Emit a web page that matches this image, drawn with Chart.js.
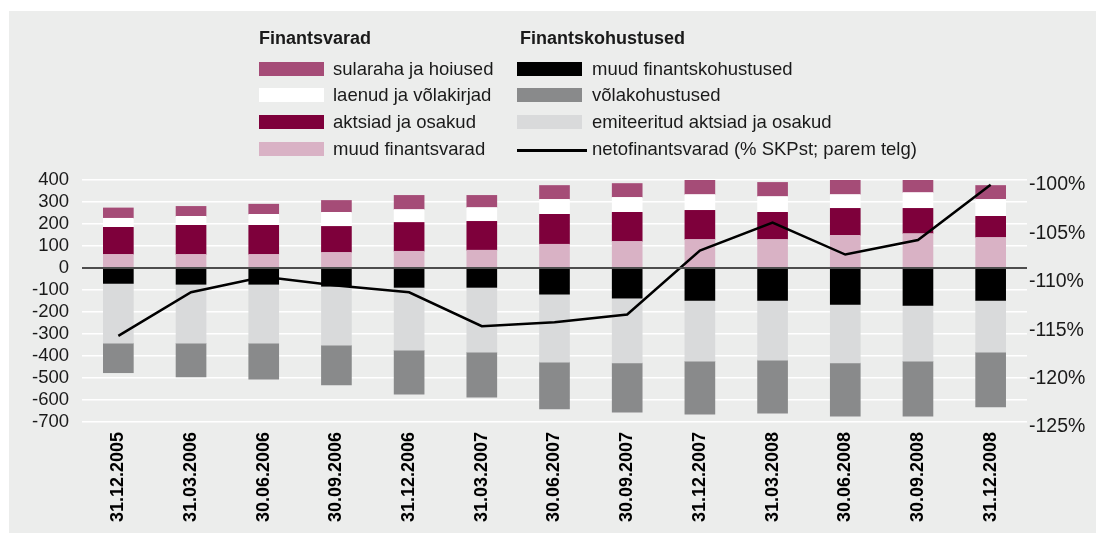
<!DOCTYPE html>
<html>
<head>
<meta charset="utf-8">
<script src="https://cdn.jsdelivr.net/npm/chart.js@4/dist/chart.umd.min.js"></script>
<style>
  html, body { margin: 0; padding: 0; background: #fff; }
  body { width: 1096px; height: 533px; position: relative; overflow: hidden; font-family: "Liberation Sans", Arial, sans-serif; color: #1a1a1a; }
  #panel { position: absolute; left: 9px; top: 11px; width: 1087px; height: 522px; background: #ecedec; }
  #chartBox { position: absolute; left: 0; top: 0; width: 1087px; height: 522px; }
  .hdr { position: absolute; font-weight: bold; font-size: 18px; line-height: 18px; }
  .sw { position: absolute; width: 65px; height: 14px; }
  .ln { position: absolute; width: 70px; height: 2.5px; background: #000; }
  .txt { position: absolute; font-size: 18.5px; line-height: 18px; white-space: nowrap; }
</style>
</head>
<body>
<div id="panel"><div id="chartBox"><canvas id="myChart"></canvas></div></div>
<div id="legend"></div>
<script>
// kvartalid
var kuupaevad = ['31.12.2005', '31.03.2006', '30.06.2006', '30.09.2006', '31.12.2006', '31.03.2007',
    '30.06.2007', '30.09.2007', '31.12.2007', '31.03.2008', '30.06.2008', '30.09.2008', '31.12.2008'];

// finantsvarad (mld kr)
var muudVarad = [62, 62, 62, 71, 76, 81, 108, 121, 130, 130, 148, 157, 139];
var aktsiad = [123, 132, 132, 118, 131, 131, 136, 132, 132, 123, 123, 114, 96];
var laenud = [41, 41, 50, 64, 59, 63, 68, 68, 72, 72, 63, 72, 77];
var sularaha = [47, 45, 46, 54, 64, 55, 63, 63, 70, 64, 68, 60, 63];

// finantskohustused
var muudKohustused = [-70, -74, -74, -83, -88, -88, -119, -137, -147, -147, -165, -170, -147];
var emiteeritud = [-272, -268, -268, -268, -286, -295, -309, -295, -277, -272, -267, -254, -236];
var volakohustused = [-134, -153, -163, -181, -199, -204, -213, -223, -240, -241, -241, -249, -249];

// netofinantsvarad, % SKPst (parem telg)
var neto = [-116.1, -111.6, -110.0, -110.9, -111.6, -115.1, -114.7, -113.9, -107.3, -104.4, -107.7, -106.2, -100.5];

var vasakTelg = { min: -700, max: 400, samm: 100 };
var paremTelg = { min: -125, max: -100, samm: 5 };

var fontPere = '"Liberation Sans", Arial, sans-serif';

var varad = [
    { label: 'sularaha ja hoiused', data: sularaha, color: '#a54c77' },
    { label: 'laenud ja võlakirjad', data: laenud, color: '#ffffff' },
    { label: 'aktsiad ja osakud', data: aktsiad, color: '#7e003b' },
    { label: 'muud finantsvarad', data: muudVarad, color: '#d9b2c5' }
];
var kohustused = [
    { label: 'muud finantskohustused', data: muudKohustused, color: '#000000' },
    { label: 'võlakohustused', data: volakohustused, color: '#898a8b' },
    { label: 'emiteeritud aktsiad ja osakud', data: emiteeritud, color: '#d9dadb' }
];
var netoSilt = 'netofinantsvarad (% SKPst; parem telg)';

// legend (kaks veergu pealkirjadega)
function teeLegend() {
    var el = document.getElementById('legend');
    var html = '';
    html += '<div class="hdr" style="left:259px;top:29px">Finantsvarad</div>';
    html += '<div class="hdr" style="left:520px;top:29px">Finantskohustused</div>';
    var ridaY = [62, 88, 115, 142];
    for (var i = 0; i < varad.length; i++) {
        html += '<div class="sw" style="left:259px;top:' + ridaY[i] + 'px;background:' + varad[i].color + '"></div>';
        html += '<div class="txt" style="left:333px;top:' + (ridaY[i] - 2) + 'px">' + varad[i].label + '</div>';
    }
    for (var j = 0; j < kohustused.length; j++) {
        html += '<div class="sw" style="left:517px;top:' + ridaY[j] + 'px;background:' + kohustused[j].color + '"></div>';
        html += '<div class="txt" style="left:592px;top:' + (ridaY[j] - 2) + 'px">' + kohustused[j].label + '</div>';
    }
    html += '<div class="ln" style="left:517px;top:149px"></div>';
    html += '<div class="txt" style="left:592px;top:' + (ridaY[3] - 2) + 'px">' + netoSilt + '</div>';
    el.innerHTML = html;
}
teeLegend();

function tulp(label, data, color) {
    return {
        type: 'bar',
        label: label,
        data: data,
        backgroundColor: color,
        borderWidth: 0,
        barThickness: 30,
        yAxisID: 'y',
        stack: 'koos'
    };
}

var datasets = [];
datasets.push({
    type: 'line',
    label: netoSilt,
    data: neto,
    yAxisID: 'y1',
    borderColor: '#000',
    borderWidth: 2.5,
    pointRadius: 0,
    tension: 0,
    fill: false
});
// virnastamise järjekord: alt üles / nullist alla
datasets.push(tulp(varad[3].label, varad[3].data, varad[3].color));
datasets.push(tulp(varad[2].label, varad[2].data, varad[2].color));
datasets.push(tulp(varad[1].label, varad[1].data, varad[1].color));
datasets.push(tulp(varad[0].label, varad[0].data, varad[0].color));
datasets.push(tulp(kohustused[0].label, kohustused[0].data, kohustused[0].color));
datasets.push(tulp(kohustused[2].label, kohustused[2].data, kohustused[2].color));
datasets.push(tulp(kohustused[1].label, kohustused[1].data, kohustused[1].color));

var ctx = document.getElementById('myChart').getContext('2d');
var chart = new Chart(ctx, {
    data: { labels: kuupaevad, datasets: datasets },
    options: {
        responsive: true,
        maintainAspectRatio: false,
        animation: false,
        layout: { padding: { top: 169, left: 0, right: 0, bottom: 0 } },
        plugins: { legend: { display: false }, tooltip: { enabled: false } },
        scales: {
            x: {
                stacked: true,
                grid: { display: false },
                border: { display: false },
                ticks: {
                    autoSkip: false, maxRotation: 90, minRotation: 90, padding: 2,
                    color: '#000', font: { family: fontPere, size: 18, weight: 'bold' }
                },
                afterFit: function (s) { s.height = 111; }
            },
            y: {
                stacked: true,
                position: 'left',
                min: vasakTelg.min, max: vasakTelg.max,
                border: { display: false },
                grid: { color: '#ffffff', lineWidth: 1.5, drawTicks: false },
                ticks: {
                    stepSize: vasakTelg.samm, padding: 13, autoSkip: false,
                    color: '#1a1a1a', font: { family: fontPere, size: 18.5 }
                },
                afterFit: function (s) { s.width = 73; }
            },
            y0: {
                position: 'left',
                min: vasakTelg.min, max: vasakTelg.max,
                border: { display: false },
                grid: {
                    z: 1, drawTicks: false, lineWidth: 2,
                    color: function (c) { return c.tick && c.tick.value === 0 ? '#4d4d4d' : 'rgba(0,0,0,0)'; }
                },
                ticks: { display: false, stepSize: vasakTelg.samm, autoSkip: false },
                afterFit: function (s) { s.width = 0; }
            },
            y1: {
                position: 'right',
                min: paremTelg.min, max: paremTelg.max,
                border: { display: false },
                grid: { display: false, drawTicks: false },
                ticks: {
                    stepSize: paremTelg.samm, padding: 2, labelOffset: 5, autoSkip: false,
                    color: '#1a1a1a', font: { family: fontPere, size: 19.5 },
                    callback: function (v) { return v + '%'; }
                },
                afterFit: function (s) { s.width = 69; }
            }
        }
    }
});
</script>
</body>
</html>
